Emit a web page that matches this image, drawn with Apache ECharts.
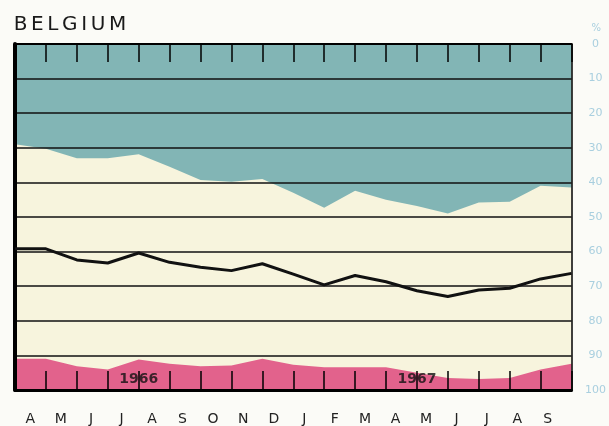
<!DOCTYPE html>
<html><head><meta charset="utf-8">
<script src="https://cdn.jsdelivr.net/npm/echarts@6/dist/echarts.min.js"></script>
<style>html,body{margin:0;padding:0;background:#fbfbf7}#c{width:609px;height:426px}</style>
</head><body><div id="c"></div>
<script>
// Month labels (Apr 1966 .. Sep 1967)
var months = ['A','M','J','J','A','S','O','N','D','J','F','M','A','M','J','J','A','S'];
// Values at month boundaries (19 points), % scale from top (0) to bottom (100)
var tealEdge = [29.0,30.3,33.0,33.0,31.9,35.5,39.3,39.8,39.0,43.0,47.3,42.4,45.0,46.8,49.0,45.8,45.6,41.0,41.5];
var blackLine = [59.2,59.2,62.4,63.3,60.4,63.1,64.5,65.5,63.5,66.5,69.6,66.9,68.7,71.3,73.0,71.1,70.6,67.9,66.3];
var pinkEdge = [91.0,91.0,93.1,94.1,91.2,92.4,93.1,92.9,91.0,92.7,93.4,93.4,93.4,95.0,96.5,96.8,96.5,94.1,92.4];
var yTicks = [0,10,20,30,40,50,60,70,80,90,100];
var years = ['1966','1967'];
var yearAt = [4,13];
var yearLevel = 97;
var titleText = 'BELGIUM';

function pairs(arr){ return arr.map(function(v,i){ return [i,v]; }); }

var chart = echarts.init(document.getElementById('c'));
chart.setOption({
  backgroundColor:'#fbfbf7',
  animation:false,
  title:{text:titleText.split('').map(function(ch){ return '{l|'+ch+'}'; }).join(''),
    left:7, top:10,
    textStyle:{fontFamily:'DejaVu Sans', fontSize:20, fontWeight:'normal', color:'#1a1a1a',
      rich:{l:{fontFamily:'DejaVu Sans', fontSize:20, color:'#1a1a1a', padding:[0,1.8,0,1.8]}}}},
  graphic:[{type:'text', right:8, top:23, style:{text:'%', fill:'#a9cfdf', font:'10px DejaVu Sans'}}],
  grid:[
    {left:15, right:36, top:44, bottom:36, show:true, backgroundColor:'#f7f4dd', borderWidth:0},
    {left:15, right:46, top:44, bottom:36, show:false}
  ],
  xAxis:[
    {type:'category', gridIndex:0, data:months, position:'bottom', boundaryGap:true, z:5,
     axisLine:{show:true, onZero:false, lineStyle:{color:'#000', width:3}},
     axisTick:{show:true, inside:true, length:19, interval:0, lineStyle:{color:'#000', width:1.5}},
     axisLabel:{show:false}},
    {type:'category', gridIndex:0, data:months, position:'top', boundaryGap:true, z:5,
     axisLine:{show:true, onZero:false, lineStyle:{color:'#000', width:2}},
     axisTick:{show:true, inside:true, length:18, interval:0, lineStyle:{color:'#000', width:1.5}},
     axisLabel:{show:false}},
    {type:'value', gridIndex:0, min:0, max:months.length, show:false, axisLine:{onZero:false}},
    {type:'category', gridIndex:1, data:months, position:'bottom', boundaryGap:true,
     axisLine:{show:false, onZero:false}, axisTick:{show:false},
     axisLabel:{color:'#222', fontFamily:'DejaVu Sans', fontSize:14, margin:22, interval:0}}
  ],
  yAxis:[
    {type:'value', gridIndex:0, inverse:true, min:0, max:100, interval:10, position:'right', z:5,
     axisLine:{show:true, onZero:false, lineStyle:{color:'#000', width:1.5}},
     axisTick:{show:false},
     axisLabel:{color:'#a9cfdf', fontFamily:'DejaVu Sans', fontSize:11, margin:24, align:'center'},
     splitLine:{show:true, lineStyle:{color:'#111', width:1.5}}},
    {type:'value', gridIndex:0, inverse:true, min:0, max:100, position:'left', z:5,
     axisLine:{show:true, onZero:false, lineStyle:{color:'#000', width:4}},
     axisTick:{show:false}, axisLabel:{show:false}, splitLine:{show:false}},
    {type:'value', gridIndex:1, show:false, min:0, max:100}
  ],
  series:[
    {type:'line', xAxisIndex:2, yAxisIndex:0, data:pairs(tealEdge), symbol:'none',
     lineStyle:{width:0}, areaStyle:{color:'#82b5b5', opacity:1, origin:'start'}, z:2},
    {type:'line', xAxisIndex:2, yAxisIndex:0, data:pairs(pinkEdge), symbol:'none',
     lineStyle:{width:0}, areaStyle:{color:'#e2628c', opacity:1, origin:'end'}, z:2},
    {type:'line', xAxisIndex:2, yAxisIndex:0, data:pairs(blackLine), symbol:'none',
     lineStyle:{width:3, color:'#111'}, z:8},
    {type:'scatter', xAxisIndex:2, yAxisIndex:0, symbolSize:0, z:9,
     data:years.map(function(y,k){ return {value:[yearAt[k], yearLevel], name:y}; }),
     label:{show:true, position:'inside', formatter:'{b}', color:'#111', fontFamily:'DejaVu Sans', fontWeight:'bold', fontSize:14}}
  ]
});
</script></body></html>
